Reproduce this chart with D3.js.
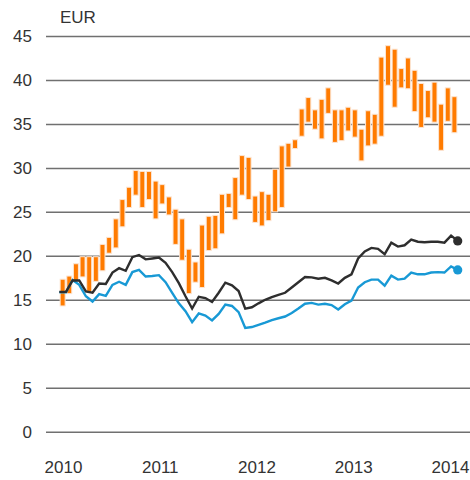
<!DOCTYPE html>
<html>
<head>
<meta charset="utf-8">
<script src="https://cdn.jsdelivr.net/npm/d3@7"></script>
<style>
  body { margin: 0; background: #fff; }
  svg { display: block; }
  text { font-family: "Liberation Sans", Arial, Helvetica, sans-serif; fill: #333; }
</style>
</head>
<body>
<svg id="chart" width="470" height="480"></svg>
<script>
// Value axis and year labels
const yTicks = [0, 5, 10, 15, 20, 25, 30, 35, 40, 45];
const yearTicks = [2010, 2011, 2012, 2013, 2014];
const unitLabel = "EUR";

// Sampling of the series: start (decimal year) and period length (years)
const seriesStart = 2009.962;
const periodYears = 0.06863;

// Trading range per period (high / low), one bar per period
const rangeHigh = [17.34, 17.7, 19.1, 19.9, 19.9, 19.9, 21.3, 22.1, 24.2, 26.4,
  27.8, 29.7, 29.6, 29.6, 28.5, 28.1, 26.7, 25.3, 24.2, 20.75,
  19.3, 23.5, 24.5, 24.6, 27.0, 27.1, 28.9, 31.4, 31.2, 26.8,
  27.3, 27.0, 29.85, 32.5, 32.8, 33.2, 36.7, 38.0, 36.6, 37.8,
  39.1, 36.6, 36.6, 36.9, 36.6, 34.4, 36.5, 36.1, 42.6, 43.9,
  43.5, 41.3, 42.5, 41.1, 39.6, 38.8, 39.75, 37.25, 39.1, 38.1];
const rangeLow = [14.3, 15.7, 17.1, 17.6, 15.9, 17.1, 18.3, 20.3, 20.9, 23.3,
  25.5, 26.9, 25.5, 26.4, 24.2, 25.9, 24.65, 21.3, 19.5, 15.7,
  17.0, 16.4, 20.6, 20.8, 22.5, 25.5, 24.1, 26.9, 26.4, 23.8,
  23.4, 24.0, 25.0, 25.5, 30.1, 32.2, 33.6, 35.2, 34.4, 33.3,
  36.2, 32.9, 33.1, 34.2, 33.5, 30.8, 32.5, 32.7, 33.6, 39.4,
  36.9, 39.1, 39.0, 36.4, 34.6, 35.7, 35.2, 32.0, 35.3, 34.0];

// Comparison series, one value per period boundary
const blackSeries = [15.9, 15.9, 17.2, 17.2, 15.95, 15.8, 16.85, 16.8, 18.1, 18.6,
  18.3, 19.85, 20.1, 19.6, 19.7, 19.8, 19.2, 18.15, 16.9, 15.4,
  14.0, 15.35, 15.2, 14.75, 15.8, 16.95, 16.65, 16.0, 14.0, 14.15,
  14.6, 15.0, 15.3, 15.55, 15.8, 16.4, 17.0, 17.6, 17.55, 17.4,
  17.5, 17.2, 16.85, 17.5, 17.9, 19.7, 20.5, 20.9, 20.8, 20.2,
  21.5, 21.05, 21.2, 21.85, 21.6, 21.55, 21.6, 21.6, 21.5, 22.3, 21.7];
const blueSeries = [15.86, 15.86, 17.25, 16.7, 15.4, 14.8, 15.65, 15.45, 16.7, 17.05,
  16.7, 18.15, 18.4, 17.65, 17.7, 17.8, 17.0, 15.8, 14.6, 13.7,
  12.45, 13.45, 13.2, 12.65, 13.4, 14.45, 14.3, 13.6, 11.8, 11.9,
  12.15, 12.4, 12.7, 12.9, 13.1, 13.5, 14.0, 14.55, 14.65, 14.45,
  14.55, 14.4, 13.9, 14.5, 14.9, 16.4, 17.0, 17.3, 17.3, 16.6,
  17.75, 17.3, 17.4, 18.1, 17.9, 17.9, 18.1, 18.15, 18.1, 18.8, 18.4];

const colors = { bar: "#ff7b00", barEdge: "#fce5d3", black: "#2e2e2e", blue: "#1899d5", grid: "#707070" };

const svg = d3.select("#chart");
const W = 470, H = 480;

const x = d3.scaleLinear().domain([2010, 2014]).range([63, 450]);
const y = d3.scaleLinear().domain([0, 45]).range([431.7, 36]);

const pointYear = i => seriesStart + i * periodYears;

// Horizontal gridlines with value labels
const yAxis = d3.axisLeft(y).tickValues(yTicks).tickSize(0).tickPadding(0);
const gy = svg.append("g").attr("transform", "translate(46,0)").call(yAxis);
gy.select(".domain").remove();
gy.selectAll(".tick line")
  .attr("x1", 0).attr("x2", W - 46)
  .attr("stroke", colors.grid).attr("stroke-width", 1.5);
gy.selectAll(".tick text")
  .attr("x", -14).attr("dy", "0.34em")
  .attr("font-size", 17).attr("fill", "#333")
  .style("font-family", '"Liberation Sans", Arial, sans-serif');

svg.append("text").attr("x", 60).attr("y", 23)
  .attr("font-size", 17).text(unitLabel);

// Year axis labels
const xAxis = d3.axisBottom(x).tickValues(yearTicks).tickFormat(d3.format("d")).tickSize(0).tickPadding(0);
const gx = svg.append("g").attr("transform", "translate(0,460)").call(xAxis);
gx.select(".domain").remove();
gx.selectAll(".tick text")
  .attr("y", 0).attr("dy", "0.74em")
  .attr("font-size", 17).attr("fill", "#333")
  .style("font-family", '"Liberation Sans", Arial, sans-serif');

// Range bars
const barW = 5;
const bars = rangeHigh.map((h, i) => ({ t: pointYear(i + 0.5), hi: h, lo: rangeLow[i] }));
svg.append("g").selectAll("rect").data(bars).join("rect")
  .attr("x", d => x(d.t) - barW / 2)
  .attr("y", d => y(d.hi))
  .attr("width", barW)
  .attr("height", d => y(d.lo) - y(d.hi))
  .attr("fill", colors.bar)
  .attr("stroke", colors.barEdge)
  .attr("stroke-width", 1);

// Lines with end markers
const line = d3.line().x((d, i) => x(pointYear(i))).y(d => y(d));
[[blueSeries, colors.blue], [blackSeries, colors.black]].forEach(([s, c]) => {
  svg.append("path").datum(s)
    .attr("d", line)
    .attr("fill", "none")
    .attr("stroke", c)
    .attr("stroke-width", 2.4)
    .attr("stroke-linejoin", "miter");
  const last = s.length - 1;
  svg.append("circle")
    .attr("cx", x(pointYear(last)))
    .attr("cy", y(s[last]))
    .attr("r", 4.6)
    .attr("fill", c);
});
</script>
</body>
</html>
